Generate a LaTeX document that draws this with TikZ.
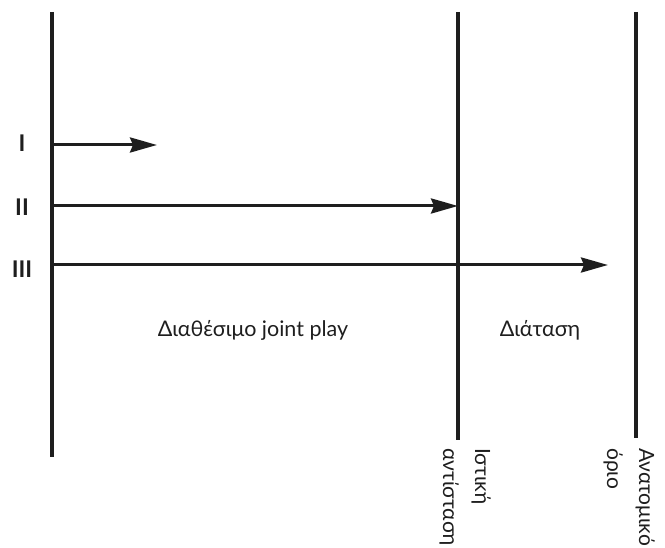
\documentclass[tikz,border=0pt]{standalone}
\usepackage{fontspec}
\setmainfont{Lato}
\usetikzlibrary{arrows.meta,positioning}
\definecolor{Ink}{HTML}{1E1E1E}

\begin{document}
\begin{tikzpicture}[x=1pt,y=-1pt,
  limit/.style={line width=3.5pt,color=Ink},
  arr/.style={-{Stealth[length=27pt,width=15pt,inset=3pt]},line width=3pt,color=Ink},
  num/.style={font=\fontsize{23}{23}\selectfont\bfseries,color=Ink,inner sep=0pt},
  zone/.style={font=\fontsize{21.5}{21.5}\selectfont,color=Ink},
  vlbl/.style={font=\fontsize{21}{32}\selectfont,color=Ink,rotate=-90,anchor=north west,align=left,inner sep=0pt}
]
\useasboundingbox (0,0) rectangle (665,548);
\clip (0,0) rectangle (665,548);
% the three limits
\coordinate (topA) at (52,12);
\coordinate (botA) at (52,457);
\coordinate (topB) at (458,12);
\coordinate (botB) at (458,440);
\coordinate (topC) at (636,12);
\coordinate (botC) at (636,438);
\draw[limit] (topA) -- (botA);
\draw[limit] (topB) -- (botB);
\draw[limit] (topC) -- (botC);
% movements
\coordinate (startI) at (52,145);
\coordinate (endI) at (157,145);
\coordinate (startII) at (52,206);
\coordinate (endII) at (458,206);
\coordinate (startIII) at (52,265);
\coordinate (endIII) at (608,265);
\draw[arr] (startI) -- (endI);
\draw[arr] (startII) -- (endII);
\draw[arr] (startIII) -- (endIII);
\node[num] (numI) at (22,143) {I};
\node[num] (numII) at (22,207) {II};
\node[num] (numIII) at (22,269) {III};
% zones
\node[zone] (play) at (253,330) {Διαθέσιμο joint play};
\node[zone] (stretch) at (540,330) {Διάταση};
\node[vlbl] (tissue) at (491,448) {Ιστική\\αντίσταση};
\node[vlbl] (anat) at (655,448) {Ανατομικό\\όριο};
\end{tikzpicture}
\end{document}
